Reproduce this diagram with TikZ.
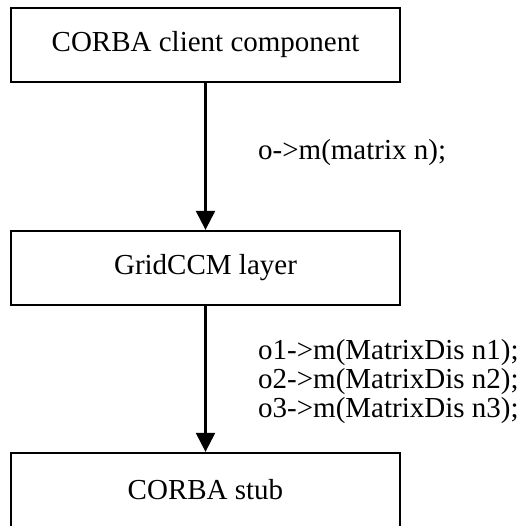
\documentclass[tikz,border=0pt]{standalone}
\usepackage{fontspec}
\setmainfont{Liberation Serif}
\usetikzlibrary{arrows.meta}
\begin{document}
\begin{tikzpicture}[x=1pt,y=-1pt,
 layerbox/.style={draw, line width=2.3pt, minimum width=389pt, minimum height=74pt, inner sep=0pt, font=\fontsize{29}{29}\selectfont},
 flow/.style={line width=2.3pt, -{Triangle[width=19pt,length=19pt]}},
 call/.style={font=\fontsize{29}{29}\selectfont, align=left, inner sep=0pt}]
\useasboundingbox (0,0) rectangle (527,526);
\clip (0,0) rectangle (527,526);
\node[layerbox] (client) at (205.5,45) {CORBA client component};
\node[layerbox] (grid) at (205.5,268) {GridCCM layer};
\node[layerbox] (stub) at (205.5,490) {CORBA stub};
\draw[flow] (client) -- (grid);
\draw[flow] (grid) -- (stub);
\node[call, anchor=west] (c1) at (258,153) {o->m(matrix n);};
\node[call, anchor=north west] (c2) at (258,339) {o1->m(MatrixDis n1);\\o2->m(MatrixDis n2);\\o3->m(MatrixDis n3);};
\end{tikzpicture}
\end{document}
